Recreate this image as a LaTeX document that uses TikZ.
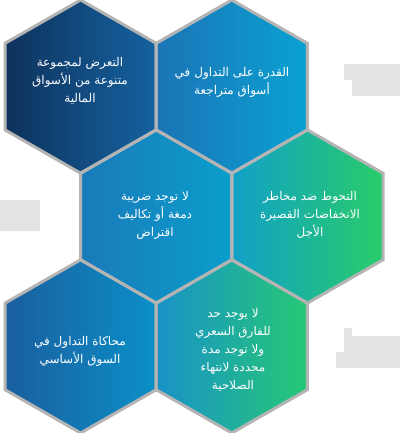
\documentclass[tikz,border=0pt]{standalone}
\usepackage{fontspec}
\newfontfamily\arabicfont[Script=Arabic]{DejaVu Sans}
\TeXXeTstate=1
\definecolor{aL}{HTML}{0E325C}
\definecolor{aR}{HTML}{1562A0}
\definecolor{bL}{HTML}{1B74B6}
\definecolor{bR}{HTML}{0AA2D2}
\definecolor{cL}{HTML}{1A7AB9}
\definecolor{cR}{HTML}{0A9ECD}
\definecolor{dL}{HTML}{11A0C8}
\definecolor{dR}{HTML}{28CC68}
\definecolor{eL}{HTML}{1A5E9E}
\definecolor{eR}{HTML}{0B90C8}
\definecolor{fL}{HTML}{1892C8}
\definecolor{fR}{HTML}{27C874}
\definecolor{gapgray}{HTML}{B4B4B4}
\newcommand{\hexat}[2]{({#1},{#2-86.6}) -- ({#1+75.6},{#2-43.3}) -- ({#1+75.6},{#2+43.3}) -- ({#1},{#2+86.6}) -- ({#1-75.6},{#2+43.3}) -- ({#1-75.6},{#2-43.3}) -- cycle}
\tikzset{
  hexline/.style={draw=gapgray, line width=3pt, line join=miter},
  hextext/.style={text=white, align=center, font=\arabicfont\fontsize{12}{18}\selectfont},
  blur/.style={fill=gray, opacity=0.22, draw=none}
}
\begin{document}
\begin{tikzpicture}[x=1pt,y=-1pt]
\useasboundingbox (0,0) rectangle (400,433);
% fills
\shade[left color=aL, right color=aR] \hexat{80.6}{86.6};
\shade[left color=bL, right color=bR] \hexat{231.8}{86.6};
\shade[left color=cL, right color=cR] \hexat{156.2}{216.5};
\shade[left color=dL, right color=dR] \hexat{307.4}{216.5};
\shade[left color=eL, right color=eR] \hexat{80.6}{346.4};
\shade[left color=fL, right color=fR] \hexat{231.8}{346.4};
% gaps
\path[hexline] \hexat{80.6}{86.6};
\path[hexline] \hexat{231.8}{86.6};
\path[hexline] \hexat{156.2}{216.5};
\path[hexline] \hexat{307.4}{216.5};
\path[hexline] \hexat{80.6}{346.4};
\path[hexline] \hexat{231.8}{346.4};
% blurred side labels
\fill[blur] (344,64) rectangle (400,80);
\fill[blur] (352,80) rectangle (400,96);
\fill[blur] (0,200) rectangle (40,231);
\fill[blur] (344,328) rectangle (352,336);
\fill[blur] (344,336) rectangle (400,352);
\fill[blur] (336,352) rectangle (400,368);
% texts
\node[hextext] (ta) at (80,81) {\beginR التعرض لمجموعة\endR\\\beginR متنوعة من الأسواق\endR\\\beginR المالية\endR};
\node[hextext] (tb) at (232,82) {\beginR القدرة على التداول في\endR\\\beginR أسواق متراجعة\endR};
\node[hextext] (tc) at (155,215) {\beginR لا توجد ضريبة\endR\\\beginR دمغة أو تكاليف\endR\\\beginR اقتراض\endR};
\node[hextext] (td) at (310,215) {\beginR التحوط ضد مخاطر\endR\\\beginR الانخفاضات القصيرة\endR\\\beginR الأجل\endR};
\node[hextext] (te) at (80,351) {\beginR محاكاة التداول في\endR\\\beginR السوق الأساسي\endR};
\node[hextext] (tf) at (233,350) {\beginR لا يوجد حد\endR\\\beginR للفارق السعري\endR\\\beginR ولا توجد مدة\endR\\\beginR محددة لانتهاء\endR\\\beginR الصلاحية\endR};
\end{tikzpicture}
\end{document}
